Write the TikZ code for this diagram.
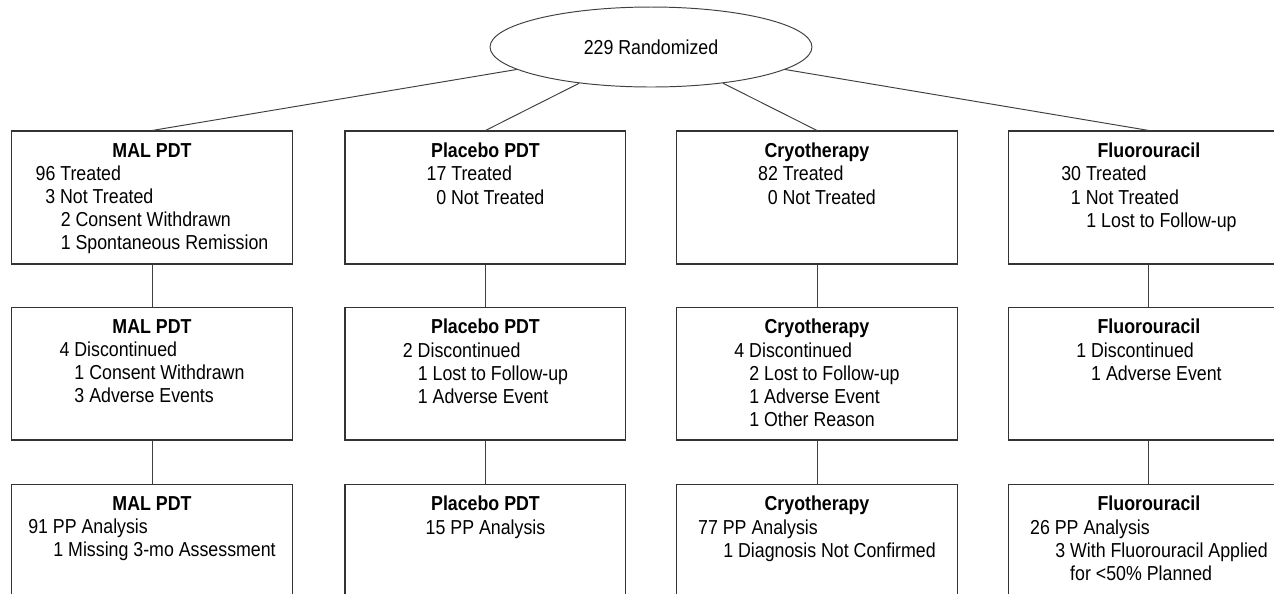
\documentclass[tikz,border=0pt]{standalone}
\usepackage{fontspec}
\setmainfont{Liberation Sans}[FakeStretch=0.88]
\usetikzlibrary{shapes,positioning}

\tikzset{
  box/.style={draw=black!80, line width=0.6pt, minimum width=5.62cm, minimum height=2.66cm, inner sep=0pt},
  txt/.style={inner sep=0pt, align=center, anchor=north, font=\fontsize{11.5}{13.2}\selectfont},
  link/.style={draw=black!75, line width=0.55pt},
}
% indent steps of the sub-lines
\newcommand{\ia}{\hspace*{5.5pt}}
\newcommand{\ib}{\hspace*{8.5pt}}
\newcommand{\ic}{\hspace*{14.3pt}}
\newcommand{\id}{\hspace*{22.8pt}}
\newcommand{\arm}[2]{\textbf{#1}\\\begin{tabular}[t]{@{}l@{}}#2\end{tabular}}

\begin{document}
\begin{tikzpicture}[x=0.02cm, y=0.02cm]
  \useasboundingbox (0,0) rectangle (1274,-593);
  \clip (0,0) rectangle (1274,-593);

  \node[draw=black!75, line width=0.55pt, ellipse, minimum width=6.44cm, minimum height=1.6cm, inner sep=0pt,
        font=\fontsize{11.5}{13.2}\selectfont] (rand) at (651,-47) {229 Randomized};

  % treated
  \node[box] (mal1) at (152,-197.5) {};
  \node[box, right=1.03cm of mal1] (pla1) {};
  \node[box, right=0.99cm of pla1] (cry1) {};
  \node[box, right=1.0cm of cry1] (flu1) {};

  % discontinued
  \node[box, below=0.84cm of mal1] (mal2) {};
  \node[box, below=0.84cm of pla1] (pla2) {};
  \node[box, below=0.84cm of cry1] (cry2) {};
  \node[box, below=0.84cm of flu1] (flu2) {};

  % per protocol
  \node[box, below=0.86cm of mal2] (mal3) {};
  \node[box, below=0.86cm of pla2] (pla3) {};
  \node[box, below=0.86cm of cry2] (cry3) {};
  \node[box, below=0.86cm of flu2] (flu3) {};

  \node[txt, below=7pt of mal1.north] (malt1) {\arm{MAL PDT}{96 Treated\\ \ia 3 Not Treated\\ \ic 2 Consent Withdrawn\\ \ic 1 Spontaneous Remission}};
  \node[txt, below=7pt of pla1.north] (plat1) {\arm{Placebo PDT}{17 Treated\\ \ia 0 Not Treated}};
  \node[txt, below=7pt of cry1.north] (cryt1) {\arm{Cryotherapy}{82 Treated\\ \ia 0 Not Treated}};
  \node[txt, below=7pt of flu1.north] (flut1) {\arm{Fluorouracil}{30 Treated\\ \ia 1 Not Treated\\ \ic 1 Lost to Follow-up}};

  \node[txt, below=7pt of mal2.north] (malt2) {\arm{MAL PDT}{4 Discontinued\\ \ib 1 Consent Withdrawn\\ \ib 3 Adverse Events}};
  \node[txt, below=7pt of pla2.north] (plat2) {\arm{Placebo PDT}{2 Discontinued\\ \ib 1 Lost to Follow-up\\ \ib 1 Adverse Event}};
  \node[txt, below=7pt of cry2.north] (cryt2) {\arm{Cryotherapy}{4 Discontinued\\ \ib 2 Lost to Follow-up\\ \ib 1 Adverse Event\\ \ib 1 Other Reason}};
  \node[txt, below=7pt of flu2.north] (flut2) {\arm{Fluorouracil}{1 Discontinued\\ \ib 1 Adverse Event}};

  \node[txt, below=7pt of mal3.north] (malt3) {\arm{MAL PDT}{91 PP Analysis\\ \ic 1 Missing 3-mo Assessment}};
  \node[txt, below=7pt of pla3.north] (plat3) {\arm{Placebo PDT}{15 PP Analysis}};
  \node[txt, below=7pt of cry3.north] (cryt3) {\arm{Cryotherapy}{77 PP Analysis\\ \ic 1 Diagnosis Not Confirmed}};
  \node[txt, below=7pt of flu3.north] (flut3) {\arm{Fluorouracil}{26 PP Analysis\\ \ic 3 With Fluorouracil Applied\\ \id for <50\% Planned}};

  \draw[link] (rand) -- (mal1.north);
  \draw[link] (rand) -- (pla1.north);
  \draw[link] (rand) -- (cry1.north);
  \draw[link] (rand) -- (flu1.north);
  \foreach \a in {mal,pla,cry,flu} {
    \draw[link] (\a1) -- (\a2);
    \draw[link] (\a2) -- (\a3);
  }
\end{tikzpicture}
\end{document}
